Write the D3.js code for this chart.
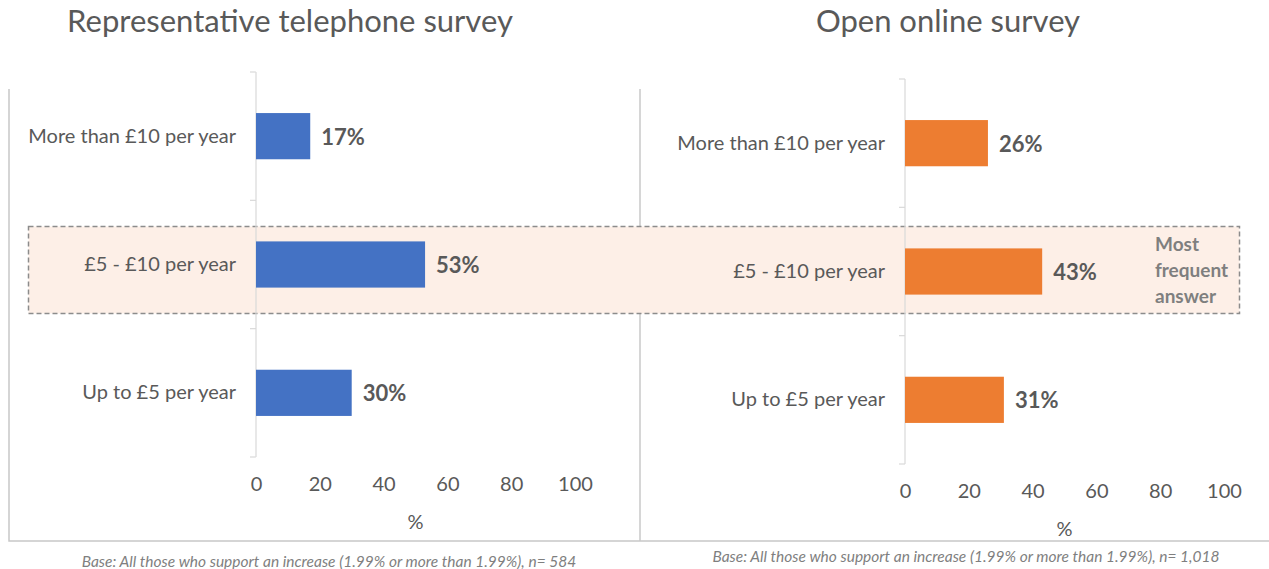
<!DOCTYPE html>
<html>
<head>
<meta charset="utf-8">
<script src="https://cdn.jsdelivr.net/npm/d3@7"></script>
<style>
  html, body { margin: 0; padding: 0; background: #ffffff; }
  svg { display: block; font-family: Lato, "Open Sans", sans-serif; }
</style>
</head>
<body>
<svg id="chart" width="1269" height="569"></svg>
<script>
// Amount respondents would be willing to pay, by survey type
const categories = ["More than £10 per year", "£5 - £10 per year", "Up to £5 per year"];
const phoneValues = [17, 53, 30];
const onlineValues = [26, 43, 31];
const xTicks = [0, 20, 40, 60, 80, 100];
const panelTitles = ["Representative telephone survey", "Open online survey"];
const baseNotes = [
  "Base: All those who support an increase (1.99% or more than 1.99%), n= 584",
  "Base: All those who support an increase (1.99% or more than 1.99%), n= 1,018"
];
const highlightCategory = "£5 - £10 per year";
const highlightNote = ["Most", "frequent", "answer"];

const textColor = "#595959";
const frameColor = "#c8c8c8";
const fontStack = "Lato, 'Open Sans', sans-serif";

const svg = d3.select("#chart");

// Frame around the two panels
svg.append("path")
  .attr("d", "M9,89 V541 H1269")
  .attr("fill", "none").attr("stroke", frameColor).attr("stroke-width", 1.5);
svg.append("line")
  .attr("x1", 640).attr("x2", 640).attr("y1", 89).attr("y2", 541)
  .attr("stroke", frameColor).attr("stroke-width", 1.5);

// Highlight band for the most frequent answer (behind the bars)
const highlightLayer = svg.append("g");

const panels = [
  { title: panelTitles[0], titleX: 290, values: phoneValues, color: "#4472C4",
    xRange: [256, 575], yRange: [72, 457], note: baseNotes[0], noteX: 329, noteY: 567 },
  { title: panelTitles[1], titleX: 948, values: onlineValues, color: "#ED7D31",
    xRange: [905, 1224], yRange: [79, 464], note: baseNotes[1], noteX: 966, noteY: 562 }
];

panels.forEach((p) => {
  const g = svg.append("g");

  const x = d3.scaleLinear().domain([0, 100]).range(p.xRange);
  const yBand = d3.scaleBand().domain(categories).range(p.yRange).padding(0);
  const yBar = d3.scaleBand().domain(categories).range(p.yRange).paddingInner(0.64).paddingOuter(0.32);

  // Title
  g.append("text")
    .attr("x", p.titleX).attr("y", 32)
    .attr("text-anchor", "middle")
    .attr("fill", textColor)
    .style("font-size", "31px")
    .text(p.title);

  // Category axis: vertical line with ticks at band boundaries
  const x0 = x(0);
  g.append("line")
    .attr("x1", x0).attr("x2", x0)
    .attr("y1", p.yRange[0]).attr("y2", p.yRange[1])
    .attr("stroke", "#d9d9d9").attr("stroke-width", 1.2);
  const boundaries = categories.map(c => yBand(c)).concat([p.yRange[1]]);
  g.selectAll(".btick").data(boundaries).join("line")
    .attr("x1", x0 - 6).attr("x2", x0)
    .attr("y1", d => d).attr("y2", d => d)
    .attr("stroke", "#d9d9d9").attr("stroke-width", 1.2);

  // Category labels
  const yAxis = d3.axisLeft(yBand).tickSize(0).tickPadding(20);
  const ya = g.append("g").attr("transform", `translate(${x0},0)`).call(yAxis);
  ya.select(".domain").remove();
  ya.selectAll("text")
    .attr("fill", textColor)
    .style("font-size", "20px")
    .style("font-family", fontStack);

  // Value axis labels
  const xAxis = d3.axisBottom(x).tickValues(xTicks).tickSize(0).tickPadding(20);
  const xa = g.append("g").attr("transform", `translate(0,${p.yRange[1]})`).call(xAxis);
  xa.select(".domain").remove();
  xa.selectAll("text")
    .attr("fill", textColor)
    .style("font-size", "20px")
    .style("font-family", fontStack);

  // Axis unit
  g.append("text")
    .attr("x", (p.xRange[0] + p.xRange[1]) / 2).attr("y", p.yRange[1] + 72)
    .attr("text-anchor", "middle")
    .attr("fill", textColor)
    .style("font-size", "20px")
    .text("%");

  // Bars
  g.selectAll(".bar").data(categories).join("rect")
    .attr("class", "bar")
    .attr("x", x0)
    .attr("y", d => yBar(d))
    .attr("width", (d, i) => x(p.values[i]) - x0)
    .attr("height", yBar.bandwidth())
    .attr("fill", p.color);

  // Value labels
  g.selectAll(".val").data(categories).join("text")
    .attr("x", (d, i) => x(p.values[i]) + 11)
    .attr("y", d => yBar(d) + yBar.bandwidth() / 2)
    .attr("dy", "0.38em")
    .attr("fill", textColor)
    .style("font-size", "22px")
    .style("font-weight", "bold")
    .text((d, i) => p.values[i] + "%");

  // Base note
  svg.append("text")
    .attr("x", p.noteX).attr("y", p.noteY)
    .attr("text-anchor", "middle")
    .attr("fill", "#7f7f7f")
    .style("font-size", "15.5px")
    .style("font-style", "italic")
    .text(p.note);
});

// Dashed highlight box spanning both panels
highlightLayer.append("rect")
  .attr("x", 28.5).attr("y", 226.5)
  .attr("width", 1211).attr("height", 87)
  .attr("fill", "#fdefe7")
  .attr("stroke", "#8c8c8c")
  .attr("stroke-width", 1.5)
  .attr("stroke-dasharray", "5,3");

const noteText = svg.append("text")
  .attr("x", 1155).attr("y", 251)
  .attr("fill", "#7f7f7f")
  .style("font-size", "19px")
  .style("font-weight", "bold");
noteText.selectAll("tspan").data(highlightNote).join("tspan")
  .attr("x", 1155)
  .attr("dy", (d, i) => i === 0 ? 0 : 26)
  .text(d => d);
</script>
</body>
</html>
